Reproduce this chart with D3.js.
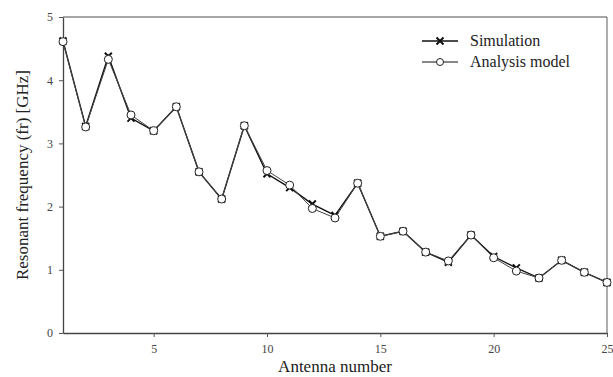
<!DOCTYPE html>
<html>
<head>
<meta charset="utf-8">
<script src="https://cdn.jsdelivr.net/npm/d3@7"></script>
<style>
  body { margin: 0; background: #fff; }
  text { font-family: "Liberation Serif", "Times New Roman", serif; }
</style>
</head>
<body>
<div id="chart"></div>
<script>
const antenna = d3.range(1, 26);
const simulation = [4.62, 3.27, 4.38, 3.40, 3.20, 3.58, 2.55, 2.12, 3.28, 2.52,
                    2.30, 2.04, 1.86, 2.37, 1.53, 1.61, 1.28, 1.12, 1.55, 1.21,
                    1.03, 0.87, 1.15, 0.96, 0.80];
const analysis = [4.61, 3.26, 4.33, 3.45, 3.20, 3.58, 2.55, 2.12, 3.28, 2.57,
                  2.34, 1.97, 1.82, 2.37, 1.53, 1.61, 1.28, 1.14, 1.55, 1.19,
                  0.98, 0.87, 1.15, 0.96, 0.80];
const xTicks = [5, 10, 15, 20, 25];
const yTicks = [0, 1, 2, 3, 4, 5];

const W = 613, H = 377;
const MARGIN = {top: 17, right: 6, bottom: 44, left: 63};
const width = W - MARGIN.left - MARGIN.right;
const height = H - MARGIN.top - MARGIN.bottom;

const svg = d3.select('#chart').append('svg')
  .attr('width', W)
  .attr('height', H);

const g = svg.append('g')
  .attr('transform', `translate(${MARGIN.left}, ${MARGIN.top})`);

const x = d3.scaleLinear().domain([1, 25]).range([0, width]);
const y = d3.scaleLinear().domain([0, 5]).range([height, 0]);

// frame (top and right)
g.append('line').attr('x1', 0).attr('x2', width).attr('y1', 0).attr('y2', 0)
  .attr('stroke', '#888').attr('stroke-width', 1.5);
g.append('line').attr('x1', width).attr('x2', width).attr('y1', 0).attr('y2', height)
  .attr('stroke', '#777').attr('stroke-width', 1.2);

// axes
const xAxis = g.append('g')
  .attr('transform', `translate(0, ${height})`)
  .call(d3.axisBottom(x).tickValues(xTicks).tickFormat(d3.format('d'))
    .tickSize(4).tickPadding(7).tickSizeOuter(0));
const yAxis = g.append('g')
  .call(d3.axisLeft(y).tickValues(yTicks).tickFormat(d3.format('d'))
    .tickSize(4).tickPadding(6).tickSizeOuter(0));

[xAxis, yAxis].forEach(a => {
  a.select('.domain').attr('stroke', '#444').attr('stroke-width', 1.3);
  a.selectAll('.tick line').attr('stroke', '#555');
  a.selectAll('.tick text')
    .attr('fill', '#444')
    .style('font-size', '12px')
    .style('font-family', '"Liberation Serif", serif');
});

// axis titles
svg.append('text')
  .attr('x', MARGIN.left + width / 2)
  .attr('y', 372)
  .attr('text-anchor', 'middle')
  .attr('fill', '#222')
  .style('font-size', '17px')
  .text('Antenna number');

svg.append('text')
  .attr('transform', `translate(28, ${MARGIN.top + height / 2}) rotate(-90)`)
  .attr('text-anchor', 'middle')
  .attr('fill', '#222')
  .style('font-size', '17px')
  .text('Resonant frequency (fr) [GHz]');

const line = d3.line().x((d, i) => x(antenna[i])).y(d => y(d));

// x marker path
function cross(cx, cy, s) {
  return `M${cx - s},${cy - s}L${cx + s},${cy + s}M${cx - s},${cy + s}L${cx + s},${cy - s}`;
}

// simulation series
g.append('path').datum(simulation)
  .attr('d', line)
  .attr('fill', 'none')
  .attr('stroke', '#111')
  .attr('stroke-width', 1.4);

g.selectAll('.sim-mark').data(simulation).enter().append('path')
  .attr('class', 'sim-mark')
  .attr('d', (d, i) => cross(x(antenna[i]), y(d), 3.5))
  .attr('stroke', '#111')
  .attr('stroke-width', 2);

// analysis series
g.append('path').datum(analysis)
  .attr('d', line)
  .attr('fill', 'none')
  .attr('stroke', '#444')
  .attr('stroke-width', 1);

g.selectAll('.ana-mark').data(analysis).enter().append('circle')
  .attr('class', 'ana-mark')
  .attr('cx', (d, i) => x(antenna[i]))
  .attr('cy', d => y(d))
  .attr('r', 4)
  .attr('fill', '#fff')
  .attr('stroke', '#222')
  .attr('stroke-width', 1);

// legend
const legend = svg.append('g').attr('transform', 'translate(422, 41)');
const legendItems = ['Simulation', 'Analysis model'];
legendItems.forEach((name, i) => {
  const row = legend.append('g').attr('transform', `translate(0, ${i * 21})`);
  row.append('line').attr('x1', 0).attr('x2', 36).attr('y1', 0).attr('y2', 0)
    .attr('stroke', '#111').attr('stroke-width', i === 0 ? 1.4 : 1);
  if (i === 0) {
    row.append('path').attr('d', cross(18, 0, 3.5))
      .attr('stroke', '#111').attr('stroke-width', 2);
  } else {
    row.append('circle').attr('cx', 18).attr('cy', 0).attr('r', 3.5)
      .attr('fill', '#fff').attr('stroke', '#222');
  }
  row.append('text')
    .attr('x', 48)
    .attr('y', 5)
    .attr('fill', '#222')
    .style('font-size', '16px')
    .text(name);
});
</script>
</body>
</html>
